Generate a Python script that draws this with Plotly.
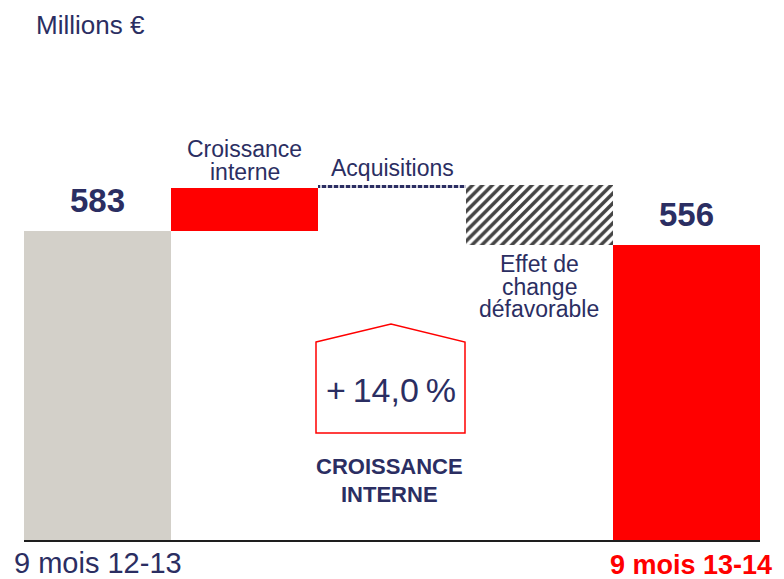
import plotly.graph_objects as go

categories = ["9 mois 12-13", "Croissance interne", "Acquisitions", "Effet de change défavorable", "9 mois 13-14"]
deltas = [583, 82, 5, -114, 556]
kinds = ["total", "delta", "delta", "delta", "total"]
value_labels = ["583", "", "", "", "556"]
label_lines = [[], ["Croissance", "interne"], ["Acquisitions"], ["Effet de", "change", "défavorable"], []]
tick_labels = ["9 mois 12-13", "", "", "", "9 mois 13-14"]
growth_text = "+\u200914,0\u2009%"
growth_caption = ["CROISSANCE", "INTERNE"]

NAVY = "#2B2E62"
HATCH = "#353868"
RED = "#FF0000"
GRAY = "#D3D0C9"

# cumulative bases / heights
bases, heights = [], []
running = 0
for d, k in zip(deltas, kinds):
    if k == "total":
        bases.append(0)
        heights.append(d)
        running = d
    else:
        if d >= 0:
            bases.append(running)
            heights.append(d)
        else:
            bases.append(running + d)
            heights.append(-d)
        running += d
tops = [b + h for b, h in zip(bases, heights)]

colors = [GRAY, RED, NAVY, "white", RED]
pat_shapes = ["", "", "|", "/", ""]
pat_fg = [GRAY, RED, "white", HATCH, RED]
pat_sol = [0.5, 0.5, 0.25, 0.5, 0.5]
pat_size = [8, 8, 6, 7, 8]

fig = go.Figure()
fig.add_trace(go.Bar(
    x=list(range(len(categories))),
    y=heights,
    base=bases,
    width=1.0,
    marker=dict(
        color=colors,
        line=dict(width=0),
        pattern=dict(shape=pat_shapes, fgcolor=pat_fg, fgopacity=1, size=pat_size,
                     solidity=pat_sol, fillmode="overlay"),
    ),
    hoverinfo="skip",
    showlegend=False,
))

FONT = "Liberation Sans, Arial, sans-serif"

# page offset compensation (browser body margin 8px)
OFF = 8
PL, PR, PT, PB = 24, 760, 10, 540  # plot area in page pixels


def px(x):
    return (x - PL) / (PR - PL)


def py(y):
    return (PB - y) / (PB - PT)


ann = []
# value labels on totals
for i in (0, 4):
    ann.append(dict(x=i, y=tops[i], text="<b>" + value_labels[i] + "</b>", showarrow=False,
                    yanchor="middle", yshift=31, font=dict(family=FONT, size=33, color=NAVY)))
# delta labels above
for i, shift0 in ((1, 16), (2, 17)):
    lines = label_lines[i]
    for j, line in enumerate(reversed(lines)):
        ann.append(dict(x=i, y=tops[i], text=line, showarrow=False, yanchor="middle",
                        yshift=shift0 + 23 * j, font=dict(family=FONT, size=23, color=NAVY)))
# effet de change below
for j, line in enumerate(label_lines[3]):
    ann.append(dict(x=3, y=bases[3], text=line, showarrow=False, yanchor="middle",
                    yshift=-19 - 22.5 * j, font=dict(family=FONT, size=23, color=NAVY)))
# bottom category labels
ann.append(dict(x=0, y=0, text=tick_labels[0], showarrow=False, yanchor="middle", yshift=-23,
                font=dict(family=FONT, size=29, color=NAVY)))
ann.append(dict(x=4, y=0, text="<b>" + tick_labels[4] + "</b>", showarrow=False, yanchor="middle",
                yshift=-25, xshift=5, font=dict(family=FONT, size=27, color=RED)))
# unit title
ann.append(dict(xref="paper", yref="paper", x=px(34), y=py(25), xanchor="left", yanchor="middle",
                text="Millions €", showarrow=False, font=dict(family=FONT, size=26, color=NAVY)))
# growth box text
ann.append(dict(xref="paper", yref="paper", x=px(391), y=py(390), text=growth_text, showarrow=False,
                yanchor="middle", font=dict(family=FONT, size=34, color=NAVY)))
for j, line in enumerate(growth_caption):
    ann.append(dict(xref="paper", yref="paper", x=px(389), y=py(466 + 28 * j), text="<b>" + line + "</b>",
                    showarrow=False, yanchor="middle", font=dict(family=FONT, size=22, color=NAVY)))

pts = [(316, 342), (391, 324), (465, 342), (465, 433), (316, 433)]
path = "M " + " L ".join(f"{px(a):.5f},{py(b):.5f}" for a, b in pts) + " Z"
fig.add_shape(type="path", xref="paper", yref="paper", path=path,
              line=dict(color=RED, width=1.5), fillcolor="rgba(0,0,0,0)")

fig.update_layout(
    width=784 - OFF, height=579 - OFF,
    margin=dict(l=PL - OFF, r=784 - PR, t=PT - OFF, b=579 - PB),
    paper_bgcolor="white", plot_bgcolor="white",
    bargap=0,
    xaxis=dict(range=[-0.5, 4.5], showticklabels=False, showgrid=False, zeroline=False,
               showline=True, linecolor="#1E1E1E", linewidth=1.5, fixedrange=True),
    yaxis=dict(range=[0, 1000], visible=False, fixedrange=True),
    annotations=ann,
)

fig.write_html("out.html")
